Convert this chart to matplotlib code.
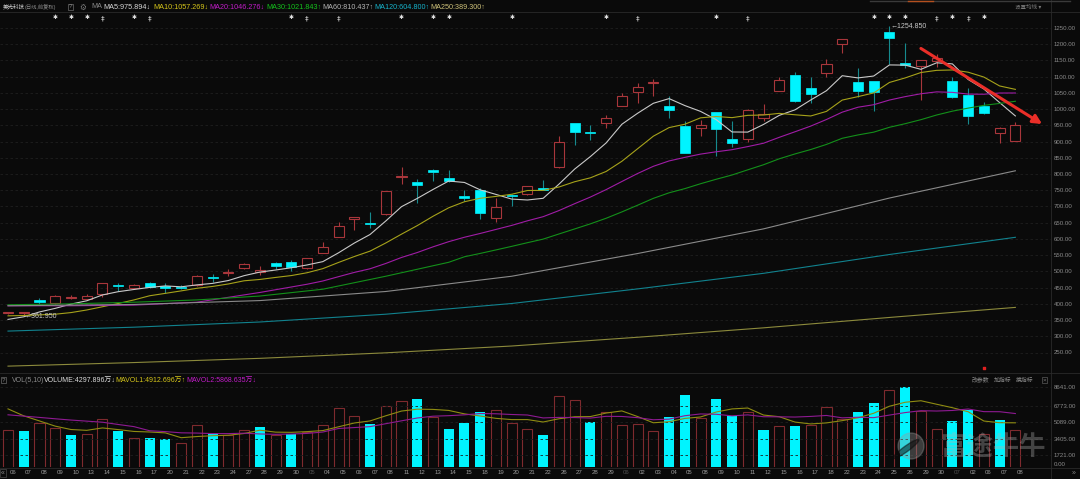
import numpy as np
import pandas as pd
import matplotlib
matplotlib.use('Agg')
import matplotlib.pyplot as plt
from matplotlib.patches import Ellipse

plt.rcParams['font.family'] = ['Liberation Sans', 'Noto Sans CJK SC', 'DejaVu Sans']

# daily OHLC
opens = [372, 372, 412.7, 403.5, 418, 414, 430, 457, 450, 465, 456, 452, 458, 482, 494, 509,
         498, 525, 529, 509, 558, 607, 660, 649, 676, 792, 774, 813, 788, 732, 751, 665,
         735, 737, 758, 821, 956, 931, 958, 1011, 1052, 1082, 1010, 947, 941, 990, 907, 907,
         974, 1057, 1104, 1064, 1110, 1200, 1083, 1086, 1237, 1143, 1132, 1147, 1086, 1043, 1009, 925,
         903]
highs = [375, 376, 417, 426, 427, 429, 465, 465, 461, 468, 463, 457, 488, 492, 507, 527,
         517, 530, 535, 542, 591, 651, 668, 682, 749, 821, 784, 816, 812, 751, 757, 727,
         737, 764, 781, 917, 957, 951, 983, 1049, 1080, 1093, 1040, 963, 966, 991, 962, 999,
         1016, 1098, 1115, 1098, 1153, 1216, 1128, 1087, 1254.85, 1203, 1151, 1171, 1099, 1065, 1021, 944,
         961]
lows = [370, 361.95, 400, 398, 415, 411, 422, 438, 446, 450, 432, 445, 455, 468, 487, 507,
        489, 506, 502, 508, 557, 606, 628, 635, 675, 769, 710, 779, 776, 718, 662, 652,
        701, 735, 750, 820, 890, 906, 942, 1010, 1020, 1041, 974, 865, 918, 856, 884, 898,
        963, 1056, 1023, 1018, 1098, 1174, 1038, 994, 1138, 1126, 1028, 1131, 1035, 953, 985, 895,
        902]
closes = [374, 373, 404.7, 423, 421, 425, 463, 455, 457, 453, 448, 449, 485, 480, 497, 523,
          504, 517, 515, 540, 574, 640, 667, 647, 748, 795, 767, 805, 777, 726, 681, 697,
          733, 763, 752, 898, 930, 926, 973, 1040, 1067, 1084, 998, 866, 950, 939, 895, 996,
          984, 1090, 1024, 1047, 1139, 1215, 1056, 1053, 1218, 1136, 1150, 1157, 1036, 978, 989, 941,
          951]
# volume in 万股
volumes = [4258, 4153, 5031, 4469, 3766, 3836, 5382, 4188, 3520, 3485, 3380, 2923, 4785, 3941, 3731, 4258,
           4610, 3801, 3836, 4100, 4785, 6543, 5734, 4891, 6718, 7210, 7492, 5629, 4364, 4961, 6121, 6297,
           4996, 4364, 3731, 7772, 7316, 5101, 6156, 4820, 4891, 4153, 5629, 7843, 5558, 7421, 5734, 6086,
           4258, 4715, 4680, 4785, 6613, 5418, 6156, 7000, 8370, 8641, 6191, 4364, 5242, 6297, 3907, 5347,
           4298]
day_labels = ['06', '07', '08', '09', '10', '13', '14', '15', '16', '17', '20', '21', '22', '23', '24', '27',
              '28', '29', '30', '05', '04', '05', '06', '07', '08', '11', '12', '13', '14', '15', '18', '19',
              '20', '21', '22', '26', '27', '28', '29', '06', '02', '03', '04', '05', '08', '09', '10', '11',
              '12', '15', '16', '17', '18', '22', '23', '24', '25', '26', '29', '30', '07', '02', '06', '07',
              '08']
month_idx = [19, 39, 60]

# start of the moving averages (history before the window is not shown)
ma5_head = [352, 360, 375, 386]
ma10_head = [363, 364, 366, 368, 373, 381, 391, 401, 412]
ma20_head_idx = [0, 4, 8, 12, 16]
ma20_head = [394, 394, 396, 405, 435]
ma30_head_idx = [0, 4, 8, 12, 16, 20, 24, 28]
ma30_head = [397, 400, 405, 412, 424, 445, 485, 528]
# long averages read at every 8th bar
long_idx = [0, 8, 16, 24, 32, 40, 48, 56, 64]
ma60 = [394, 398, 410, 438, 485, 555, 631, 726, 810]
ma120 = [316, 328, 344, 368, 401, 446, 494, 552, 605]
ma250 = [208, 219, 232, 249, 270, 297, 326, 358, 389]
mavol5_head = [6440, 5730, 5210, 4680]
mavol10_head = [5837, 5700, 5570, 5430, 5300, 5190, 5080, 4850, 4630]

star_idx = [3, 4, 5, 8, 18, 25, 27, 28, 32, 38, 45, 55, 56, 57, 60, 62]
dagger_idx = [6, 9, 19, 21, 40, 47, 59, 61]
flag_idx = [62]
arrow_tail = (58.0, 1187)
arrow_head = (65.7, 954)

price_ticks = list(range(250, 1251, 50))
vol_ticks = [1721, 3405, 5089, 6773, 8641]

BG = '#0a0a0a'
UP = '#a8363b'
DN = '#00f4ff'
DN_WICK = '#168a8e'
GRID = '#1f1f1f'
LINE = '#2a2a2a'

W, H = 1080, 479
fig = plt.figure(figsize=(W / 100, H / 100), dpi=100, facecolor=BG)


def box(x0, y0, x1, y1):
    return [x0 / W, 1 - y1 / H, (x1 - x0) / W, (y1 - y0) / H]


def ftext(xp, yp, s, color, size=5.0, **kw):
    fig.text(xp / W, 1 - yp / H, s, color=color, fontsize=size, va='center', **kw)


ax = fig.add_axes(box(0, 12, 1051, 372), facecolor=BG)
axv = fig.add_axes(box(0, 374, 1051, 467), facecolor=BG, sharex=ax)

x = np.arange(len(closes))
o, h, l, c = (np.array(v, dtype=float) for v in (opens, highs, lows, closes))
up = c >= o

# candles
top = np.maximum(o, c)
bot = np.minimum(o, c)
wick_col = [UP if u else DN_WICK for u in up]
ax.vlines(x, top, h, colors=wick_col, lw=0.8, zorder=2)
ax.vlines(x, l, bot, colors=wick_col, lw=0.8, zorder=2)
body = np.maximum(top - bot, 1.5)
ax.bar(x[up], body[up], bottom=bot[up], width=0.64, facecolor='none', edgecolor=UP, lw=0.8, zorder=3)
ax.bar(x[~up], body[~up], bottom=bot[~up], width=0.64, color=DN, edgecolor=DN, lw=0.5, zorder=3)

# moving averages
cs = pd.Series(c)


def ma_curve(n, head_idx, head_val):
    roll = cs.rolling(n).mean()
    return list(head_idx) + list(range(n - 1, len(c))), list(head_val) + list(roll[n - 1:])


ma_specs = [
    (ma_curve(5, range(4), ma5_head), '#c9c9c9'),
    (ma_curve(10, range(9), ma10_head), '#a6a21a'),
    (ma_curve(20, ma20_head_idx, ma20_head), '#a01ca6'),
    (ma_curve(30, ma30_head_idx, ma30_head), '#13901a'),
    ((long_idx, ma60), '#8a8a8a'),
    ((long_idx, ma120), '#11828e'),
    ((long_idx, ma250), '#8c8a3c'),
]
for (mx, my), col in ma_specs:
    ax.plot(mx, my, color=col, lw=0.8, zorder=4)

# high / low markers
ih = int(np.argmax(h))
il = int(np.argmin(l))
ax.text(ih + 0.05, h[ih], '\u2190' + f'{h[ih]:.3f}', color='#c8c8c8', fontsize=5, va='center', ha='left', zorder=5)
ax.text(il + 0.05, l[il], '\u2190' + f'{l[il]:.3f}', color='#c8c8c8', fontsize=5, va='center', ha='left', zorder=5)

# trend arrow
ax.annotate('', xy=arrow_head, xytext=arrow_tail,
            arrowprops=dict(arrowstyle='-|>', color='#ea2e28', lw=2.2, mutation_scale=13,
                            shrinkA=0, shrinkB=0), zorder=6)

ax.set_xlim(-8 / 15.74, 1043 / 15.74)
ax.set_ylim(1250 - 344 / 0.3245, 1250 + 16 / 0.3245)
ax.set_yticks(price_ticks)
ax.set_yticklabels([f'{t:.2f}' for t in price_ticks])
ax.yaxis.tick_right()
ax.tick_params(axis='y', length=0, pad=2, labelsize=4.4, labelcolor='#8a8a8a')
ax.tick_params(axis='x', length=0, labelbottom=False)
ax.grid(axis='y', color=GRID, lw=0.6, linestyle=(0, (3, 3)))
for s in ax.spines.values():
    s.set_visible(False)

# event markers row
for i in star_idx:
    ax.text(i, 1250 + 10 / 0.3245, '\u2731', color='#e6e6e6', fontsize=4.2, ha='center', va='center',
            family='DejaVu Sans')
for i in dagger_idx:
    ax.text(i, 1250 + 10 / 0.3245, '\u2021', color='#e6e6e6', fontsize=5, ha='center', va='center',
            family='DejaVu Sans')
for i in flag_idx:
    ax.scatter([i], [1250 - 340 / 0.3245], marker='s', s=2, color='#e02020', clip_on=False, zorder=6)

# volume
v = np.array(volumes, dtype=float)
prev = np.r_[o[0], c[:-1]]
vup = c >= prev
axv.bar(x[vup], v[vup], width=0.64, facecolor='none', edgecolor='#7e2a2e', lw=0.8)
axv.bar(x[~vup], v[~vup], width=0.64, color=DN)
vs = pd.Series(v)
for n, head, col in [(5, mavol5_head, '#8f8c12'), (10, mavol10_head, '#8e1a92')]:
    roll = vs.rolling(n).mean()
    axv.plot(list(range(n - 1)) + list(range(n - 1, len(v))), list(head) + list(roll[n - 1:]),
             color=col, lw=0.8, zorder=4)
axv.set_ylim(510, 10000)
axv.set_yticks(vol_ticks)
axv.set_yticklabels([f'{t:.2f}' for t in vol_ticks])
axv.yaxis.tick_right()
axv.tick_params(axis='y', length=0, pad=2, labelsize=4.4, labelcolor='#8a8a8a')
axv.grid(axis='y', color=GRID, lw=0.6, linestyle=(0, (3, 3)))
axv.set_xticks(x + 0.3)
axv.set_xticklabels(day_labels)
axv.tick_params(axis='x', length=0, pad=2.5, labelsize=4.4, labelcolor='#9a9a9a')
for i in month_idx:
    axv.get_xticklabels()[i].set_color('#4e4e4e')
for s in axv.spines.values():
    s.set_visible(False)

# frame lines
for yp in (12, 372.5, 467.5):
    fig.add_artist(plt.Line2D([0, 1], [1 - yp / H] * 2, color=LINE, lw=0.6))
fig.add_artist(plt.Line2D([1051 / W] * 2, [1 - 479 / H, 1 - 0 / H], color=LINE, lw=0.6))
fig.add_artist(plt.Line2D([870 / W, 1070 / W], [1 - 0.6 / H] * 2, color='#3a3a3a', lw=1))
fig.add_artist(plt.Line2D([908 / W, 933 / W], [1 - 0.6 / H] * 2, color='#b4501e', lw=1))

# header
ftext(3, 7, '美光科技', '#d0d0d0', 4.0)
ftext(25, 7, '(日线,前复权)', '#8a8a8a', 3.8)
ftext(68.5, 7, '?', '#8a8a8a', 4.6, bbox=dict(boxstyle='square,pad=0.15', fc='none', ec='#6a6a6a', lw=0.5))
ftext(79, 7, '\u2699', '#7a7a7a', 5.5, family='DejaVu Sans')
ftext(91, 7, 'MA', '#8a8a8a', 5.2)
header = [(103, 'MA5:975.894\u2193', '#d8d8d8'), (153, 'MA10:1057.269\u2193', '#d6c61a'),
          (209, 'MA20:1046.276\u2193', '#c21cc8'), (266.5, 'MA30:1021.843\u2191', '#14c21c'),
          (322, 'MA60:810.437\u2191', '#b4b4b4'), (374.5, 'MA120:604.800\u2191', '#16b4cc'),
          (430.5, 'MA250:389.300\u2191', '#cfc27a')]
for xp, s, col in header:
    ftext(xp, 7, s, col, 5.2)
ftext(1015, 7, '设置均线 ▾', '#7a7a7a', 4.0)

# volume header
ftext(2, 380, '?', '#8a8a8a', 4.5, bbox=dict(boxstyle='square,pad=0.15', fc='none', ec='#6a6a6a', lw=0.5))
ftext(12, 380, 'VOL(5,10)', '#8a8a8a', 5.0)
ftext(44, 380, 'VOLUME:4297.896万\u2193', '#dcdcdc', 5.0)
ftext(115, 380, 'MAVOL1:4912.696万\u2191', '#d6c61a', 5.0)
ftext(186, 380, 'MAVOL2:5868.635万\u2193', '#c21cc8', 5.0)
ftext(971.5, 380, '改参数', '#8a8a8a', 4.2)
ftext(994, 380, '加指标', '#8a8a8a', 4.2)
ftext(1016, 380, '换指标', '#8a8a8a', 4.2)
ftext(1043, 380, '×', '#7a7a7a', 4.6, bbox=dict(boxstyle='square,pad=0.1', fc='none', ec='#5a5a5a', lw=0.5))
ftext(1054, 464.5, '0.00', '#8a8a8a', 4.4)
ftext(1, 473, '«', '#8a8a8a', 5, bbox=dict(boxstyle='square,pad=0.1', fc='none', ec='#4a4a4a', lw=0.5))
ftext(1072, 473, '»', '#8a8a8a', 5)

# watermark
fig.add_artist(Ellipse((911 / W, 1 - 446 / H), 26 / W, 26 / H, transform=fig.transFigure,
                       color='#9a9a9a', alpha=0.35, zorder=8))
fig.add_artist(Ellipse((906 / W, 1 - 449 / H), 8 / W, 22 / H, angle=-30, transform=fig.transFigure,
                       color=BG, alpha=0.5, zorder=9))
fig.text(940 / W, 1 - 447 / H, '富途牛牛', color='#b0b0b0', alpha=0.35, fontsize=19,
         family=['Noto Sans CJK SC'], weight='bold', va='center', zorder=8)

fig.savefig('out.png', dpi=100, facecolor=BG)
